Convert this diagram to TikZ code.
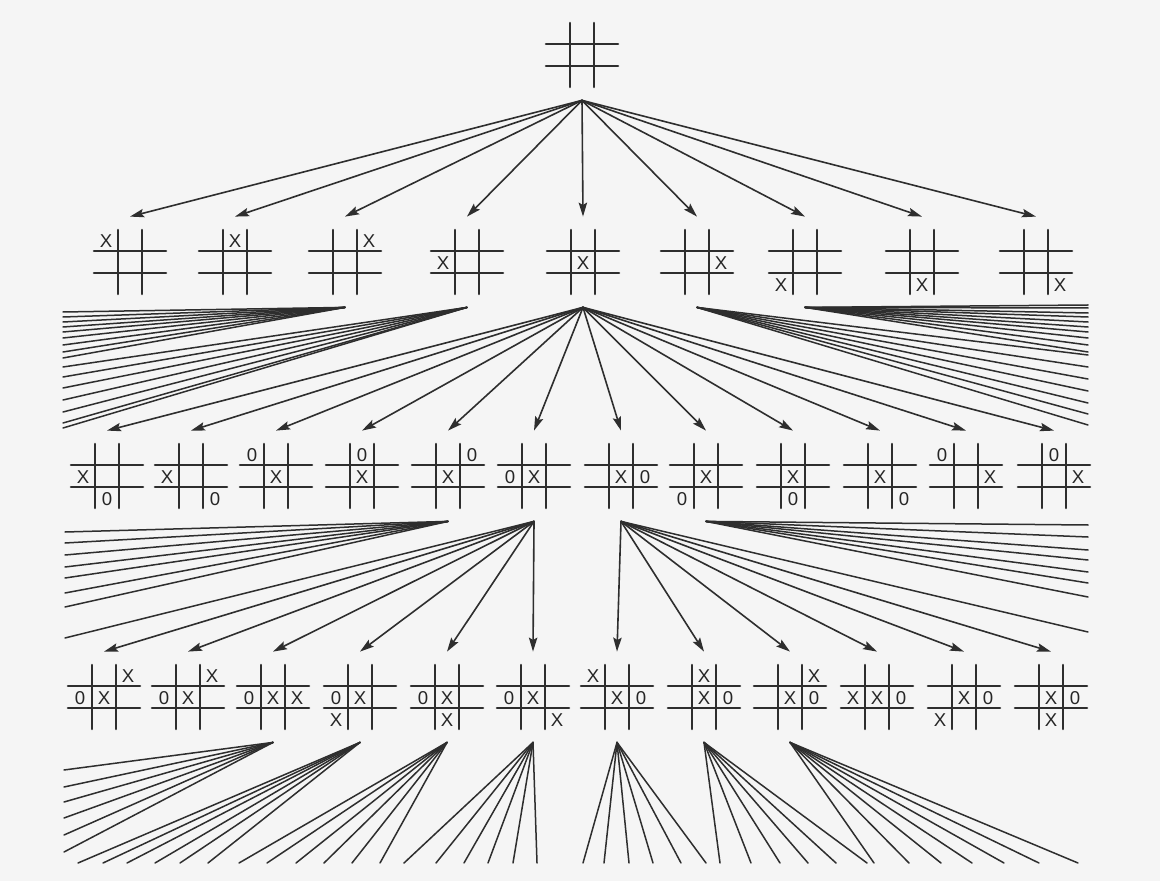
\documentclass[tikz,border=0pt]{standalone}
\usepackage{fontspec}
\usepackage{tikz}
\usetikzlibrary{arrows.meta}
\newfontfamily\symfont{Liberation Sans}

% grid of one position, centred at (#1,#2)
\newcommand{\grid}[2]{%
  \draw[gridline] (#1-12,#2-32) -- (#1-12,#2+32) (#1+12,#2-32) -- (#1+12,#2+32)
    (#1-36,#2-11) -- (#1+36,#2-11) (#1-36,#2+11) -- (#1+36,#2+11);}
% board: name, x, y, marks as col/row/symbol
\newcommand{\board}[4]{%
  \node[board] (#1) at (#2,#3) {};
  \grid{#2}{#3}
  \foreach \c/\r/\s [count=\k] in {#4}
    \node[sym] (#1m\k) at (#2+24*\c,#3+22*\r+1) {\s};}

\begin{document}
\begin{tikzpicture}[x=0.5pt,y=-0.5pt,>={Stealth[length=7pt,width=4.2pt,inset=1.2pt]},line cap=round,
  board/.style={minimum width=36pt,minimum height=45pt,inner sep=0pt},
  gridline/.style={black!82,line width=1.3pt},
  sym/.style={inner sep=0pt,black!85,font=\symfont\fontsize{9.3}{10}\selectfont},
  arr/.style={->,black!82,line width=0.8pt},
  fan/.style={black!82,line width=0.75pt}]
\fill[black!4] (0,0) rectangle (1160,881);

% root
\node[board] (r) at (582,55) {};
\grid{582}{55}

% first move
\board{a1}{130}{262}{-1/-1/X}
\board{a2}{235}{262}{0/-1/X}
\board{a3}{345}{262}{1/-1/X}
\board{a4}{467}{262}{-1/0/X}
\board{a5}{583}{262}{0/0/X}
\board{a6}{697}{262}{1/0/X}
\board{a7}{805}{262}{-1/1/X}
\board{a8}{922}{262}{0/1/X}
\board{a9}{1036}{262}{1/1/X}

% second move
\board{b1}{107}{476}{-1/0/X,0/1/0}
\board{b2}{191}{476}{-1/0/X,1/1/0}
\board{b3}{276}{476}{-1/-1/0,0/0/X}
\board{b4}{362}{476}{0/-1/0,0/0/X}
\board{b5}{448}{476}{0/0/X,1/-1/0}
\board{b6}{534}{476}{-1/0/0,0/0/X}
\board{b7}{621}{476}{0/0/X,1/0/0}
\board{b8}{706}{476}{-1/1/0,0/0/X}
\board{b9}{793}{476}{0/0/X,0/1/0}
\board{b10}{880}{476}{0/0/X,1/1/0}
\board{b11}{966}{476}{-1/-1/0,1/0/X}
\board{b12}{1054}{476}{0/-1/0,1/0/X}

% third move
\board{c1}{104}{697}{1/-1/X,-1/0/0,0/0/X}
\board{c2}{188}{697}{1/-1/X,-1/0/0,0/0/X}
\board{c3}{273}{697}{-1/0/0,0/0/X,1/0/X}
\board{c4}{360}{697}{-1/0/0,0/0/X,-1/1/X}
\board{c5}{447}{697}{-1/0/0,0/0/X,0/1/X}
\board{c6}{533}{697}{-1/0/0,0/0/X,1/1/X}
\board{c7}{617}{697}{-1/-1/X,0/0/X,1/0/0}
\board{c8}{704}{697}{0/-1/X,0/0/X,1/0/0}
\board{c9}{790}{697}{1/-1/X,0/0/X,1/0/0}
\board{c10}{877}{697}{-1/0/X,0/0/X,1/0/0}
\board{c11}{964}{697}{-1/1/X,0/0/X,1/0/0}
\board{c12}{1051}{697}{0/1/X,0/0/X,1/0/0}

% arrows
\foreach \i in {1,...,9} \draw[arr] (r.south) -- (a\i.north);
\foreach \i in {1,...,12} \draw[arr] (a5.south) -- (b\i.north);
\foreach \i in {1,...,6} \draw[arr] (b6.south) -- (c\i.north);
\foreach \i in {7,...,12} \draw[arr] (b7.south) -- (c\i.north);

% fans running off the page
\foreach \y [count=\i] in {312,317,322,327,332,338,345,352,358} {
  \coordinate (fa\i) at (63,\y); \draw[fan] (a3.south) -- (fa\i);}
\foreach \y [count=\i] in {367,377,388,400,412,423,428} {
  \coordinate (fb\i) at (63,\y); \draw[fan] (a4.south) -- (fb\i);}
\foreach \y [count=\i] in {355,367,379,391,403,414,425} {
  \coordinate (fc\i) at (1088,\y); \draw[fan] (a6.south) -- (fc\i);}
\foreach \y [count=\i] in {305,308,313,317,322,327,332,338,345,352} {
  \coordinate (fd\i) at (1088,\y); \draw[fan] (a7.south) -- (fd\i);}
\foreach \y [count=\i] in {532,543,555,567,578,593,607} {
  \coordinate (fe\i) at (65,\y); \draw[fan] (b5.south) -- (fe\i);}
\coordinate (ff1) at (65,638); \draw[fan] (b6.south) -- (ff1);
\coordinate (fg1) at (1088,632); \draw[fan] (b7.south) -- (fg1);
\foreach \y [count=\i] in {525,537,550,560,572,583,597} {
  \coordinate (fh\i) at (1088,\y); \draw[fan] (b8.south) -- (fh\i);}

% fourth move
\foreach \y [count=\i] in {770,787,802,818,835,852} {
  \coordinate (g3\i) at (64,\y); \draw[fan] (c3.south) -- (g3\i);}
\foreach \x [count=\i] in {78,103,127,155,180,208} {
  \coordinate (g4\i) at (\x,863); \draw[fan] (c4.south) -- (g4\i);}
\foreach \x [count=\i] in {239,267,296,324,352,380} {
  \coordinate (g5\i) at (\x,863); \draw[fan] (c5.south) -- (g5\i);}
\foreach \x [count=\i] in {404,436,464,488,513,537} {
  \coordinate (g6\i) at (\x,863); \draw[fan] (c6.south) -- (g6\i);}
\foreach \x [count=\i] in {583,604,629,653,681,706} {
  \coordinate (g7\i) at (\x,863); \draw[fan] (c7.south) -- (g7\i);}
\foreach \x [count=\i] in {720,751,780,808,836,867} {
  \coordinate (g8\i) at (\x,863); \draw[fan] (c8.south) -- (g8\i);}
\foreach \x [count=\i] in {874,909,941,972,1004,1039,1078} {
  \coordinate (g9\i) at (\x,863); \draw[fan] (c9.south) -- (g9\i);}
\end{tikzpicture}
\end{document}
